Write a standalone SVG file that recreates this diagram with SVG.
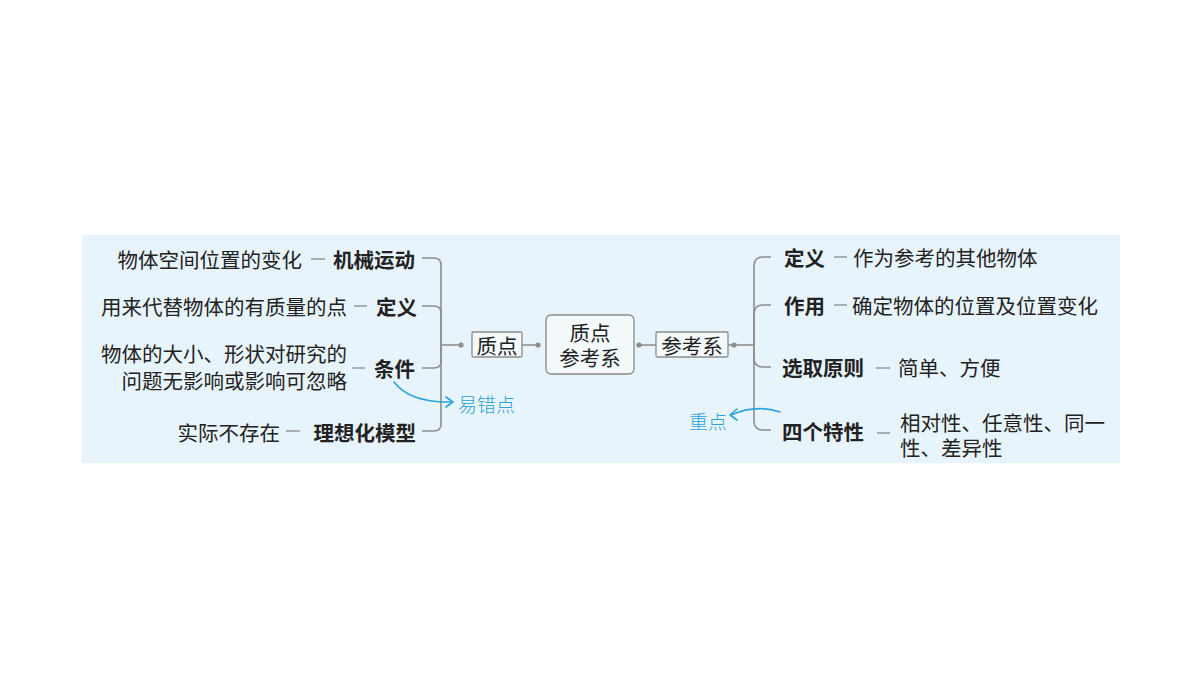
<svg xmlns="http://www.w3.org/2000/svg" width="1200" height="675" viewBox="0 0 1200 675">
<defs>
<style>
text{font-family:"Noto Sans CJK SC","Liberation Sans",sans-serif;font-size:20.5px;fill:#222;dominant-baseline:central}
.b{font-weight:bold}
.r{text-anchor:end}
.m{text-anchor:middle}
.ln{fill:none;stroke:#8e8e8e;stroke-width:1.6}
.dash{stroke:#999;stroke-width:1.5}
.dot{fill:#8e8e8e}
.box{fill:#f4f9fc;stroke:#8a8a8a;stroke-width:1.3}
.hand{fill:none;stroke:#2ba3da;stroke-width:1.6;stroke-linecap:round;stroke-linejoin:round}
.ht{fill:#2ba3da;font-size:19px;font-weight:300}
</style>
</defs>
<rect x="0" y="0" width="1200" height="675" fill="#ffffff"/>
<rect x="82" y="235" width="1038" height="228" fill="#e8f4fb"/>

<g id="connectors">
<path class="ln" d="M441 345 V265 Q441 258 434 258 H422"/>
<path class="ln" d="M441 345 V313 Q441 306 434 306 H422"/>
<path class="ln" d="M441 345 V361 Q441 368 434 368 H422"/>
<path class="ln" d="M441 345 V424 Q441 431 434 431 H422"/>
<path class="ln" d="M441 345 H461"/>
<circle class="dot" cx="461" cy="345" r="2.6"/>
<path class="ln" d="M522 345 H538"/>
<circle class="dot" cx="538" cy="345" r="2.6"/>
<path class="ln" d="M639 345 H656"/>
<circle class="dot" cx="639" cy="345" r="2.6"/>
<path class="ln" d="M728 345 H754"/>
<circle class="dot" cx="734" cy="345" r="2.6"/>
<path class="ln" d="M754 345 V266 Q754 257 763 257 H771"/>
<path class="ln" d="M754 345 V314 Q754 305 763 305 H771"/>
<path class="ln" d="M754 345 V358 Q754 367 763 367 H771"/>
<path class="ln" d="M754 345 V421 Q754 430 763 430 H771"/>
<line class="dash" x1="311" y1="259" x2="325" y2="259"/>
<line class="dash" x1="354" y1="306" x2="367" y2="306"/>
<line class="dash" x1="352" y1="368" x2="365" y2="368"/>
<line class="dash" x1="286" y1="431" x2="300" y2="431"/>
<line class="dash" x1="834" y1="257" x2="847" y2="257"/>
<line class="dash" x1="834" y1="305" x2="847" y2="305"/>
<line class="dash" x1="876" y1="368" x2="890" y2="368"/>
<line class="dash" x1="877" y1="433" x2="890" y2="433"/>
</g>

<g id="center">
<rect class="box" x="546" y="315" width="88" height="59" rx="5"/>
<text class="m"><tspan x="590" y="332">质点</tspan><tspan x="590" y="357">参考系</tspan></text>
</g>
<g id="zhidian">
<rect class="box" x="472" y="332" width="50" height="25" rx="1.5"/>
<text class="m" x="497" y="344.5">质点</text>
</g>
<g id="cankaoxi">
<rect class="box" x="656" y="332" width="72" height="25" rx="1.5"/>
<text class="m" x="692" y="344.5">参考系</text>
</g>

<g id="jixieyundong">
<text class="b r" x="415" y="259">机械运动</text>
<text class="r" x="302" y="259">物体空间位置的变化</text>
</g>
<g id="dingyi-left">
<text class="b r" x="417" y="306">定义</text>
<text class="r" x="347" y="306">用来代替物体的有质量的点</text>
</g>
<g id="tiaojian">
<text class="b r" x="415" y="368">条件</text>
<text class="r"><tspan x="347" y="353">物体的大小、形状对研究的</tspan><tspan x="347" y="380">问题无影响或影响可忽略</tspan></text>
</g>
<g id="lixianghua">
<text class="b r" x="416" y="432">理想化模型</text>
<text class="r" x="280" y="432">实际不存在</text>
</g>

<g id="dingyi-right">
<text class="b" x="784" y="257">定义</text>
<text x="853" y="257">作为参考的其他物体</text>
</g>
<g id="zuoyong">
<text class="b" x="784" y="305">作用</text>
<text x="852" y="305">确定物体的位置及位置变化</text>
</g>
<g id="xuanqu">
<text class="b" x="782" y="367">选取原则</text>
<text x="898" y="367">简单、方便</text>
</g>
<g id="texing">
<text class="b" x="782" y="431">四个特性</text>
<text><tspan x="900" y="422">相对性、任意性、同一</tspan><tspan x="900" y="447">性、差异性</tspan></text>
</g>

<g id="annot-yicuo">
<path class="hand" d="M394 382 Q410 403 452 402"/>
<path class="hand" d="M446 397 L453 402 L446 407"/>
<text class="ht" x="458" y="403">易错点</text>
</g>
<g id="annot-zhongdian">
<path class="hand" d="M780 412 Q756 404 731 415"/>
<path class="hand" d="M737 409 L730 415 L737 420"/>
<text class="ht" x="689" y="420">重点</text>
</g>
</svg>
